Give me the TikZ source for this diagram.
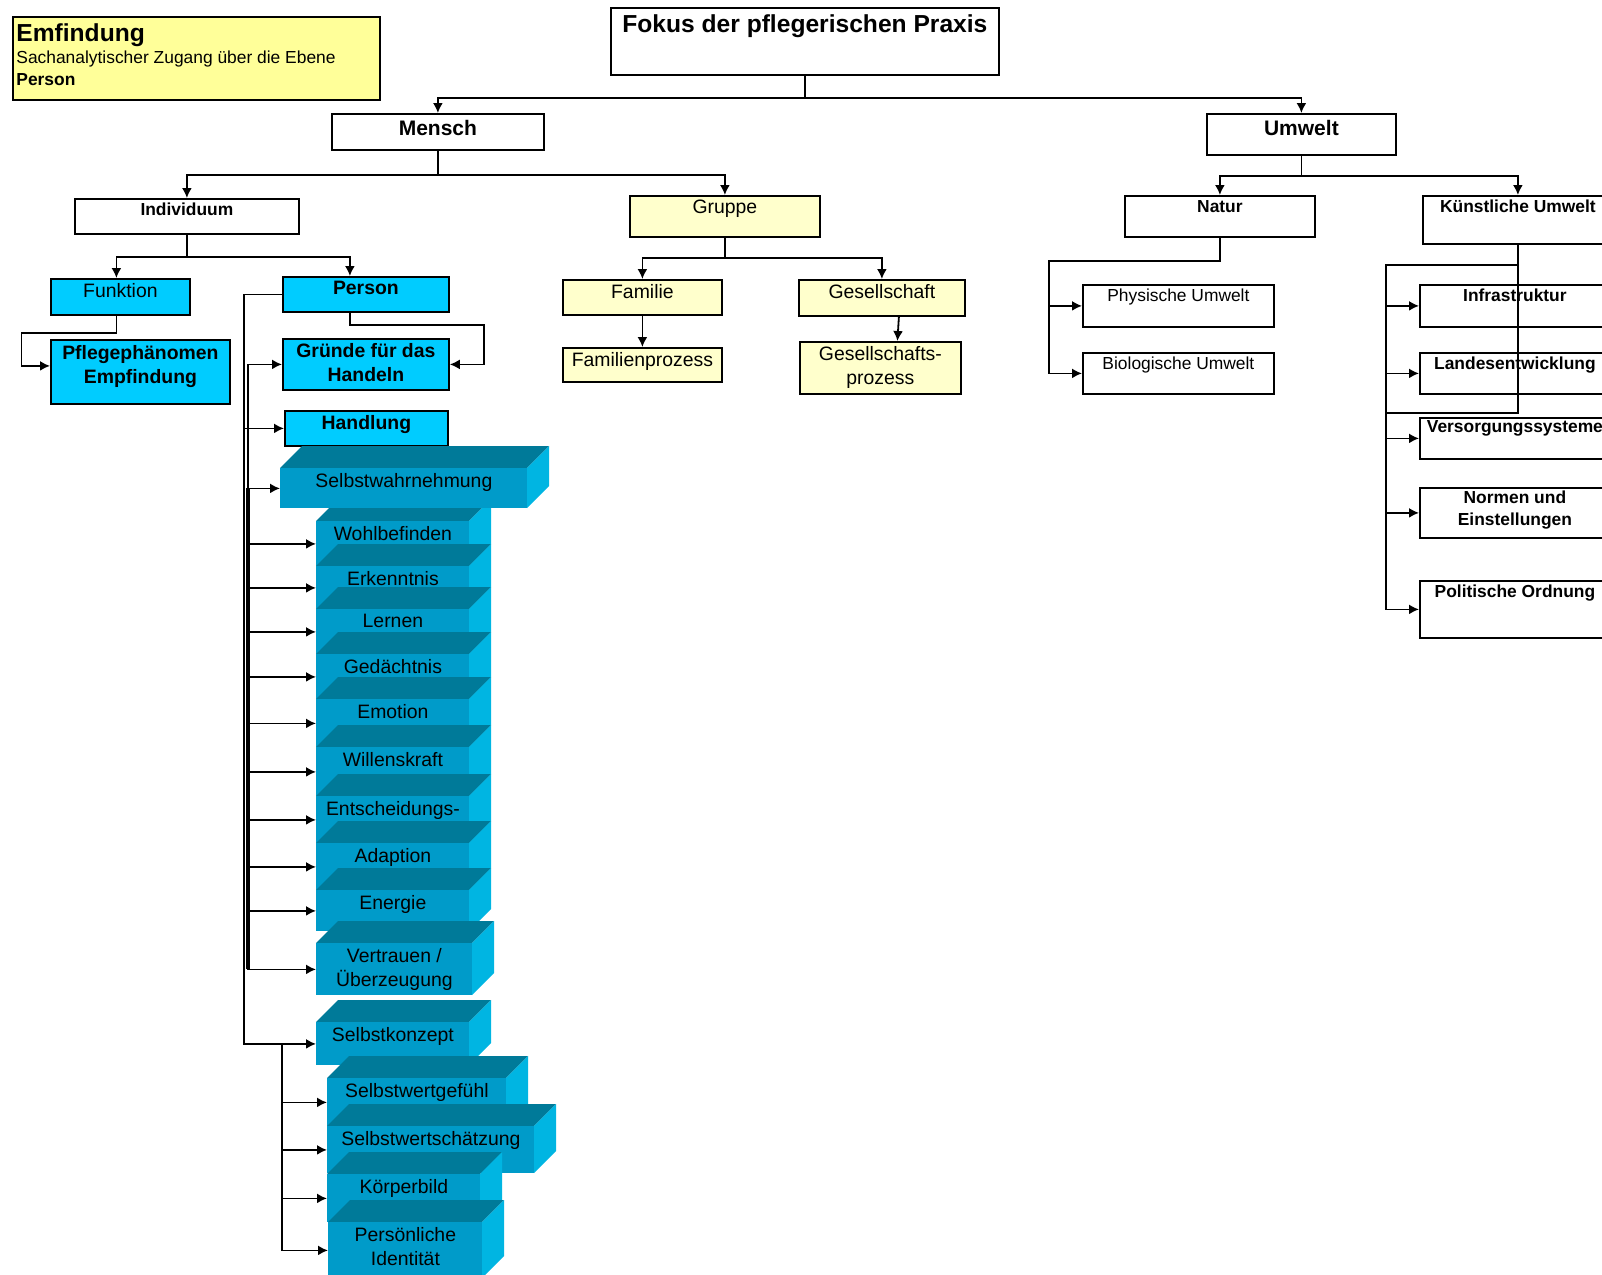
\documentclass[tikz,border=0pt]{standalone}
\usepackage{fontspec}
\setmainfont{Liberation Sans}
\usepackage{tikz}
\usetikzlibrary{arrows.meta}
\definecolor{skyblue}{HTML}{00CCFF}
\definecolor{paleyellow}{HTML}{FFFFCC}
\definecolor{lemon}{HTML}{FFFF99}
\definecolor{frontblue}{HTML}{009BC9}
\definecolor{topblue}{HTML}{007A99}
\definecolor{sideblue}{HTML}{00B5E2}
\def\fTitle{\fontsize{12.3}{14.8}\selectfont}
\def\fHead{\fontsize{10.5}{12.6}\selectfont}
\def\fMain{\fontsize{9.7}{11.9}\selectfont}
\def\fSmall{\fontsize{8.7}{11}\selectfont}
% stacked block: name, x, y, width, height, text
\def\slab#1#2#3#4#5#6{%
  \fill[topblue] (#2,#3) -- ++(22,-22) -- ++(#4,0) -- ++(-22,22) -- cycle;
  \fill[sideblue] (#2+#4,#3) -- ++(22,-22) -- ++(0,#5) -- ++(-22,22) -- cycle;
  \node[slab, dims={#4}{#5}, txt={font=\fMain}{#6}] (#1) at (#2,#3) {};}

\begin{document}
\begin{tikzpicture}[x=0.5pt,y=-0.5pt,
  dims/.style 2 args={minimum width=#1*0.5pt,minimum height=#2*0.5pt},
  txt/.style 2 args={label={[anchor=north,align=center,inner sep=2.4pt,#1]north:#2}}]
\tikzstyle{box}=[rectangle, draw=black, line width=0.9pt, fill=white, anchor=north west, inner sep=0pt]
\tikzstyle{cyanbox}=[box, fill=skyblue]
\tikzstyle{yellowbox}=[box, fill=paleyellow]
\tikzstyle{slab}=[rectangle, fill=frontblue, anchor=north west, inner sep=0pt]
\tikzstyle{connect}=[-{Latex[length=5pt,width=5pt]}, line width=0.9pt]
\tikzstyle{wire}=[line width=0.9pt]
\useasboundingbox (0,0) rectangle (1602,1275);
\clip (0,0) rectangle (1602,1275);
  \node[box, fill=lemon, dims={367}{83}, label={[anchor=north west,align=left,inner xsep=2pt,inner ysep=3.5pt,font=\fSmall]north west:{{\fTitle\bfseries Emfindung}\\Sachanalytischer Zugang über die Ebene\\\textbf{Person}}}] (note) at (12,16) {};
  \node[box, dims={388}{67}, txt={font=\fTitle\bfseries,inner sep=3.5pt}{Fokus der pflegerischen Praxis}] (fokus) at (610,7) {};
  \node[box, dims={212}{36}, txt={font=\fHead\bfseries,inner sep=3.5pt}{Mensch}] (mensch) at (331,113) {};
  \node[box, dims={189}{41}, txt={font=\fHead\bfseries,inner sep=3.5pt}{Umwelt}] (umwelt) at (1206,113) {};
  \node[box, dims={224}{35}, txt={font=\fSmall\bfseries}{Individuum}] (individuum) at (74,198) {};
  \node[yellowbox, dims={190}{41}, txt={font=\fMain}{Gruppe}] (gruppe) at (629,195) {};
  \node[box, dims={190}{41}, txt={font=\fSmall\bfseries}{Natur}] (natur) at (1124,195) {};
  \node[box, dims={190}{48}, txt={font=\fSmall\bfseries}{Künstliche Umwelt}] (kuenstlich) at (1422,195) {};
  \node[cyanbox, dims={139}{36}, txt={font=\fMain}{Funktion}] (funktion) at (50,278) {};
  \node[cyanbox, dims={179}{64}, txt={font=\fMain\bfseries,inner sep=3pt}{Pflegephänomen\\Empfindung}] (pflege) at (50,339) {};
  \node[cyanbox, dims={166}{35}, txt={font=\fMain\bfseries}{Person}] (person) at (282,276) {};
  \node[cyanbox, dims={166}{51}, txt={font=\fMain\bfseries}{Gründe für das\\Handeln}] (gruende) at (282,338) {};
  \node[cyanbox, dims={163}{35}, txt={font=\fMain\bfseries}{Handlung}] (handlung) at (284,410) {};
  \node[yellowbox, dims={159}{35}, txt={font=\fMain}{Familie}] (familie) at (562,279) {};
  \node[yellowbox, dims={159}{34}, txt={font=\fMain}{Familienprozess}] (famprozess) at (562,347) {};
  \node[yellowbox, dims={166}{36}, txt={font=\fMain}{Gesellschaft}] (gesellschaft) at (798,279) {};
  \node[yellowbox, dims={161}{52}, txt={font=\fMain}{Gesellschafts-\\prozess}] (gesprozess) at (799,341) {};
  \node[box, dims={191}{42}, txt={font=\fSmall}{Physische Umwelt}] (physisch) at (1082,284) {};
  \node[box, dims={191}{41}, txt={font=\fSmall}{Biologische Umwelt}] (biologisch) at (1082,352) {};
  \node[box, dims={190}{42}, txt={font=\fSmall\bfseries}{Infrastruktur}] (infra) at (1419,284) {};
  \node[box, dims={190}{41}, txt={font=\fSmall\bfseries}{Landesentwicklung}] (landes) at (1419,352) {};
  \node[box, dims={190}{41}, txt={font=\fSmall\bfseries,inner sep=1.5pt}{Versorgungssysteme}] (versorgung) at (1419,417) {};
  \node[box, dims={190}{50}, txt={font=\fSmall\bfseries,inner sep=1.5pt}{Normen und\\Einstellungen}] (normen) at (1419,487) {};
  \node[box, dims={190}{57}, txt={font=\fSmall\bfseries}{Politische Ordnung}] (politik) at (1419,580) {};
  % blocks of the person
  \slab{wohl}{316}{521}{153}{45}{Wohlbefinden}
  \slab{erkenntnis}{316}{566}{153}{43}{Erkenntnis}
  \slab{lernen}{316}{609}{153}{45}{Lernen}
  \slab{gedaechtnis}{316}{654}{153}{45}{Gedächtnis}
  \slab{emotion}{316}{699}{153}{48}{Emotion}
  \slab{wille}{316}{747}{153}{49}{Willenskraft}
  \slab{entscheidung}{316}{796}{153}{47}{Entscheidungs-}
  \slab{adaption}{316}{843}{153}{47}{Adaption}
  \slab{energie}{316}{890}{153}{41}{Energie}
  \slab{vertrauen}{316}{943}{156}{52}{Vertrauen /\\Überzeugung}
  \slab{wahrnehmung}{280}{468}{247}{40}{Selbstwahrnehmung}
  \slab{konzept}{316}{1022}{153}{43}{Selbstkonzept}
  \slab{wertgefuehl}{327}{1078}{179}{48}{Selbstwertgefühl}
  \slab{wertschaetzung}{327}{1126}{207}{47}{Selbstwertschätzung}
  \slab{koerper}{327}{1174}{153}{48}{Körperbild}
  \slab{identitaet}{328}{1222}{154}{56}{Persönliche\\Identität}
  % tree
  \draw[connect] (fokus.south) -- ++(0,22) -| (mensch.north);
  \draw[connect] (fokus.south) -- ++(0,22) -| (umwelt.north);
  \draw[connect] (mensch.south) -- ++(0,24) -| (individuum.north);
  \draw[connect] (mensch.south) -- ++(0,24) -| (gruppe.north);
  \draw[connect] (individuum.south) -- ++(0,22) -| ([xshift=-2pt]funktion.north);
  \draw[connect] (individuum.south) -- ++(0,22) -| ([xshift=-8pt]person.north);
  \draw[connect] ([xshift=-2pt]funktion.south) -- ++(0,17) -- ++(-95,0) |- ([yshift=3pt]pflege.west);
  \draw[connect] ([xshift=-8pt]person.south) -- ++(0,12) -| ([xshift=17pt]gruende.east) -- (gruende.east);
  \draw[connect] (person.west) -- ++(-38,0) |- (handlung.west);
  \draw[connect] (person.west) -- ++(-38,0) |- (konzept.west);
  \draw[connect] ([xshift=-17pt]gruende.west) -- (gruende.west);
  \draw[connect] ([xshift=-17pt]gruende.west) |- (wahrnehmung.west);
  \draw[connect] ([xshift=-17pt]gruende.west) |- (wohl.west);
  \draw[connect] ([xshift=-17pt]gruende.west) |- (erkenntnis.west);
  \draw[connect] ([xshift=-17pt]gruende.west) |- (lernen.west);
  \draw[connect] ([xshift=-17pt]gruende.west) |- (gedaechtnis.west);
  \draw[connect] ([xshift=-17pt]gruende.west) |- (emotion.west);
  \draw[connect] ([xshift=-17pt]gruende.west) |- (wille.west);
  \draw[connect] ([xshift=-17pt]gruende.west) |- (entscheidung.west);
  \draw[connect] ([xshift=-17pt]gruende.west) |- (adaption.west);
  \draw[connect] ([xshift=-17pt]gruende.west) |- (energie.west);
  \draw[connect] ([xshift=-17pt]gruende.west) |- (vertrauen.west);
  \draw[line width=1.6pt] ([xshift=-16pt]wahrnehmung.west) -- ([xshift=-34pt]vertrauen.west);
  \draw[connect] ([xshift=-17pt]konzept.west) |- (wertgefuehl.west);
  \draw[connect] ([xshift=-17pt]konzept.west) |- (wertschaetzung.west);
  \draw[connect] ([xshift=-17pt]konzept.west) |- (koerper.west);
  \draw[connect] ([xshift=-17pt]konzept.west) |- (identitaet.west);
  \draw[connect] (gruppe.south) -- ++(0,20) -| (familie.north);
  \draw[connect] (gruppe.south) -- ++(0,20) -| (gesellschaft.north);
  \draw[connect] (familie.south) -- (famprozess.north);
  \draw[connect] ([xshift=8.5pt]gesellschaft.south) -- ([xshift=8.5pt]gesprozess.north);
  \draw[connect] (umwelt.south) -- ++(0,20) -| (natur.north);
  \draw[connect] (umwelt.south) -- ++(0,20) -| (kuenstlich.north);
  \draw[connect] (natur.south) -- ++(0,23) -| ([xshift=-16.5pt]physisch.west) -- (physisch.west);
  \draw[connect] (natur.south) -- ++(0,23) -| ([xshift=-16.5pt]biologisch.west) -- (biologisch.west);
  \draw[connect] (kuenstlich.south) -- ++(0,20) -| ([xshift=-16.5pt]infra.west) -- (infra.west);
  \draw[connect] (kuenstlich.south) -- ++(0,20) -| ([xshift=-16.5pt]landes.west) -- (landes.west);
  \draw[connect] (kuenstlich.south) -- ++(0,20) -| ([xshift=-16.5pt]versorgung.west) -- (versorgung.west);
  \draw[connect] (kuenstlich.south) -- ++(0,20) -| ([xshift=-16.5pt]normen.west) -- (normen.west);
  \draw[connect] (kuenstlich.south) -- ++(0,20) -| ([xshift=-16.5pt]politik.west) -- (politik.west);
  \draw[wire] (kuenstlich.south) -- ++(0,168) -| ([xshift=-16.5pt]versorgung.west);
\end{tikzpicture}
\end{document}
